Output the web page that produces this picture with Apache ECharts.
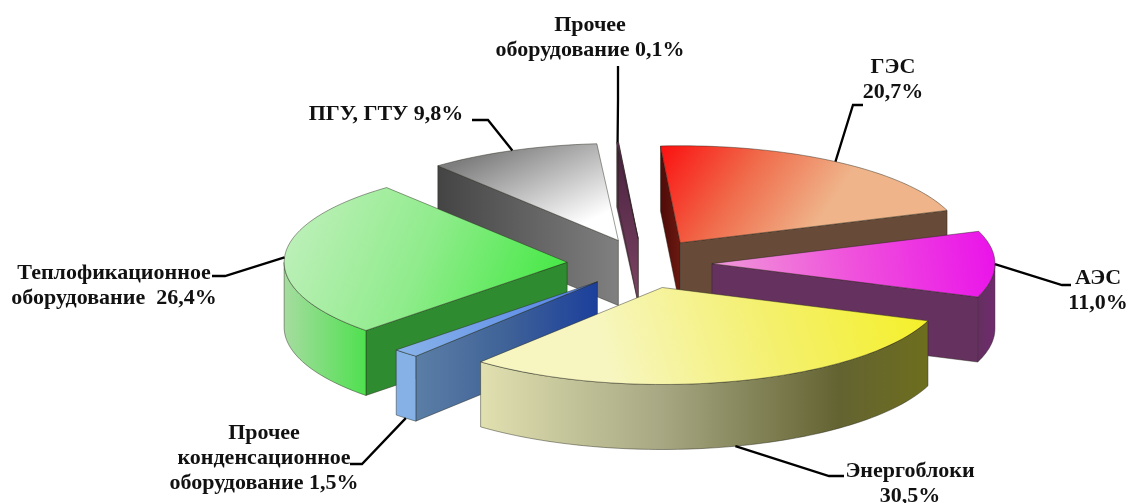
<!DOCTYPE html>
<html>
<head>
<meta charset="utf-8">
<style>html,body{margin:0;padding:0;background:#fff}#c{width:1130px;height:503px}</style>
<script src="https://cdn.jsdelivr.net/npm/echarts@6/dist/echarts.min.js"></script>
</head>
<body>
<div id="c"></div>
<script>
// Data, clockwise from the first slice
const categories = ['ГЭС', 'АЭС', 'Энергоблоки', 'Прочее конденсационное оборудование', 'Теплофикационное оборудование', 'ПГУ, ГТУ', 'Прочее оборудование'];
const shares = [20.7, 11.0, 30.5, 1.5, 26.4, 9.8, 0.1];
const labelTexts = ['ГЭС\n20,7%', 'АЭС\n11,0%', 'Энергоблоки\n30,5%', 'Прочее\nконденсационное\nоборудование 1,5%', 'Теплофикационное\nоборудование  26,4%', 'ПГУ, ГТУ 9,8%', 'Прочее\nоборудование 0,1%'];

// Projection of the pie
const view = {cx: 641.5, cy: 263.5, rx: 283, ry: 97, height: 65, explode: 0.256, startAngle: -4};
// Small horizontal correction of each slice's explode position
const explodeNudge = [-1, -2, 2, 5, -2, 4, 2];

// Label placement: leader elbow, leader end, text centre
const labelLayout = [
  {elbow: [853, 105], end: [863, 105], text: [893, 80]},
  {elbow: [1062, 285], end: [1071, 285], text: [1098, 291]},
  {elbow: [829, 476], end: [844, 476], text: [910, 484]},
  {elbow: [362, 464], end: [350, 464], text: [264, 458]},
  {elbow: [225, 276], end: [212, 276], text: [114, 286]},
  {elbow: [488, 120], end: [472, 120], text: [386, 114]},
  {elbow: [618, 100], end: [618, 66], text: [590, 38]}
];

// Slice paints
const G = (x, y, x2, y2, stops) => ({type: 'linear', x, y, x2, y2, colorStops: stops.map(c => ({offset: c[0], color: c[1]}))});
const paints = [
  {top: G(0, 0, .5, 1, [[0, '#fb0f0f'], [.5, '#f06a4a'], [1, '#efb48a']]),
   start: G(0, 0, 1, 0, [[0, '#4e0a08'], [1, '#6b1a10']]), end: '#674a38', wall: '#674a38'},
  {top: G(1, 0, 0, .6, [[0, '#ea12ea'], [.5, '#ef50dc'], [1, '#f09ad8']]),
   start: '#65325f', end: '#65325f', wall: G(0, 0, 1, 0, [[0, '#63305f'], [1, '#702a70']])},
  {top: G(1, 0, .3, 1, [[0, '#f5f025'], [.5, '#f4f06e'], [1, '#f7f6c0']]),
   start: '#6b6b25', end: '#6b6b25', wall: G(0, 0, 1, 0, [[0, '#e0e0b0'], [.4, '#a8a884'], [.8, '#636332'], [1, '#6e6e1e']])},
  {top: G(0, 1, 1, 0, [[0, '#8ab4ea'], [1, '#4f7fe8']]),
   start: G(0, 0, 1, 0, [[0, '#5b7ea6'], [.5, '#3f6298'], [1, '#1c3f9c']]), end: '#1c3f9c', wall: '#85b1e6'},
  {top: G(0, 0, 1, .8, [[0, '#c4f0c0'], [.5, '#90ec8c'], [1, '#3ee83e']]),
   start: '#2f8b2f', end: '#2f8b2f', wall: G(0, 0, 1, 0, [[0, '#a6dca0'], [1, '#4fe04f']])},
  {top: G(.35, 0, .6, 1, [[0, '#7e7e7e'], [1, '#ffffff']]),
   start: G(0, 0, 1, 0, [[0, '#444444'], [1, '#808080']]), end: '#808080', wall: '#808080'},
  {top: '#5a2c50', start: G(0, 0, 0, 1, [[0, '#48203f'], [1, '#7d4664']]),
   end: G(0, 0, 0, 1, [[0, '#48203f'], [1, '#7d4664']]), wall: '#5a2c50'}
];

const total = shares.reduce((a, b) => a + b, 0);
const rad = d => d * Math.PI / 180;
const spans = [];
shares.reduce((acc, v) => { const a1 = acc + v / total * 360; spans.push([acc, a1]); return a1; }, view.startAngle);

const chart = echarts.init(document.getElementById('c'));
const edge = {stroke: 'rgba(35,35,25,.75)', lineWidth: .6};

function renderSlice(params, api) {
  const i = params.dataIndex;
  const [a0, a1] = spans[i];
  const mid = (a0 + a1) / 2;
  const ax = view.cx + explodeNudge[i] + view.explode * view.rx * Math.sin(rad(mid));
  const ay = view.cy - view.explode * view.ry * Math.cos(rad(mid));
  const onArc = t => [ax + view.rx * Math.sin(rad(t)), ay - view.ry * Math.cos(rad(t))];
  const down = p => [p[0], p[1] + view.height];
  const arc = (t0, t1) => {
    const n = Math.max(1, Math.ceil((t1 - t0) / 1.5)), out = [];
    for (let k = 0; k <= n; k++) out.push(onArc(t0 + (t1 - t0) * k / n));
    return out;
  };
  const z2 = 10 + Math.round(20 * (1 - Math.cos(rad(mid))));
  const paint = paints[i];
  const poly = (points, fill, z) => ({type: 'polygon', shape: {points}, z2: z, style: Object.assign({fill}, edge)});
  const children = [];
  const apex = [ax, ay];
  const interior = [ax + .5 * view.rx * Math.sin(rad(mid)), ay - .5 * view.ry * Math.cos(rad(mid))];
  [[a0, paint.start], [a1, paint.end]].forEach(([t, fill]) => {
    const p = onArc(t);
    const lineY = ay + (interior[0] - ax) * (p[1] - ay) / (p[0] - ax);
    if (interior[1] < lineY || shares[i] < 0.5) children.push(poly([apex, p, down(p), down(apex)], fill, z2));
  });
  const w0 = Math.max(a0, 90), w1 = Math.min(a1, 270);
  if (w1 > w0) {
    const topEdge = arc(w0, w1);
    children.push(poly(topEdge.concat(topEdge.map(down).reverse()), paint.wall, z2));
  }
  children.push(poly([apex].concat(arc(a0, a1)), paint.top, z2));

  // Leader line from the middle of the slice's rim, then its label
  const rim = onArc(mid);
  const anchor = Math.cos(rad(mid)) < -.5 ? down(rim) : rim;
  const lay = labelLayout[i];
  children.push({type: 'polyline', z2: 100, shape: {points: [anchor, lay.elbow, lay.end]},
    style: {stroke: '#000', lineWidth: 2.3, fill: null}});
  children.push({type: 'text', z2: 101, style: {
    text: labelTexts[i], x: lay.text[0], y: lay.text[1], align: 'center', verticalAlign: 'middle',
    font: 'bold 22px "Liberation Serif"', lineHeight: 25, fill: '#111'}});
  return {type: 'group', children};
}

chart.setOption({
  animation: false,
  backgroundColor: '#fff',
  series: [{
    type: 'custom',
    coordinateSystem: 'none',
    silent: true,
    data: categories.map((name, i) => ({name, value: shares[i]})),
    renderItem: renderSlice
  }]
});
</script>
</body>
</html>
